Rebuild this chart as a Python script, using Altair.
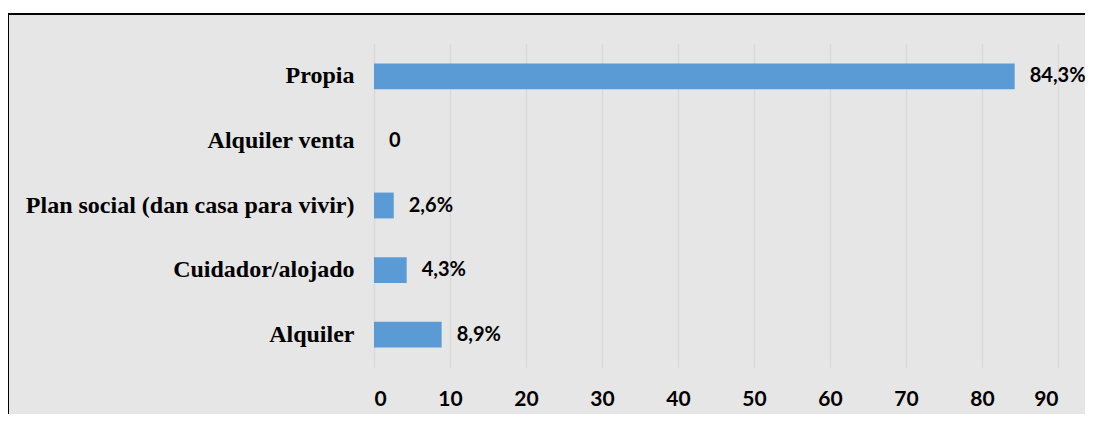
import altair as alt
import pandas as pd

categories = ["Propia", "Alquiler venta", "Plan social (dan casa para vivir)", "Cuidador/alojado", "Alquiler"]
values = [84.3, 0, 2.6, 4.3, 8.9]
labels = ["84,3%", "0", "2,6%", "4,3%", "8,9%"]
ticks = [0, 10, 20, 30, 40, 50, 60, 70, 80, 90]

df = pd.DataFrame({"cat": categories, "val": values, "lab": labels})

W, H = 684, 323
PL, PT, PR, PB = 366, 36, 27, 47

xs = alt.Scale(domain=[0, 90], nice=False)
ys = alt.Scale(paddingInner=0.6, paddingOuter=0.3)

base = alt.Chart(df)

bars = base.mark_bar(color="#5b9bd5").encode(
    x=alt.X("val:Q", scale=xs, title=None,
            axis=alt.Axis(values=ticks, domain=False, ticks=False, grid=True,
                          gridColor="#d9d9d9", gridWidth=1.5,
                          labelFont="Lato", labelFontWeight="bold", labelFontSize=21,
                          labelColor="#000000", labelPadding=21)),
    y=alt.Y("cat:N", sort=categories, scale=ys, title=None,
            axis=alt.Axis(domain=False, ticks=False, grid=False,
                          labelFont="Liberation Serif", labelFontWeight="bold",
                          labelFontSize=24, labelColor="#000000", labelPadding=20,
                          labelLimit=0)),
)

text = base.mark_text(align="left", baseline="middle", dx=15, font="Lato",
                      fontWeight="bold", fontSize=20, color="#000000").encode(
    x=alt.X("val:Q", scale=xs),
    y=alt.Y("cat:N", sort=categories, scale=ys),
    text="lab:N",
)

# white strip above the frame and the black frame
strip = alt.Chart(pd.DataFrame({"k": [0]})).mark_rect(fill="#ffffff").encode(
    x=alt.value(-PL - 5), x2=alt.value(W + PR + 5), y=alt.value(-PT - 5), y2=alt.value(-PT + 6))
frame = alt.Chart(pd.DataFrame({"k": [0]})).mark_rect(fill=None, stroke="#000000", strokeWidth=2).encode(
    x=alt.value(-PL), x2=alt.value(W + PR + 10), y=alt.value(-PT + 6), y2=alt.value(H + PB + 10))

chart = alt.layer(bars, text, strip, frame).properties(
    width=W, height=H,
    autosize=alt.AutoSizeParams(type="none"),
    padding={"left": PL, "top": PT, "right": PR, "bottom": PB},
    background="#e6e6e6",
).configure_view(stroke=None)

chart.save("out.html", embed_options={"renderer": "svg", "actions": False})
